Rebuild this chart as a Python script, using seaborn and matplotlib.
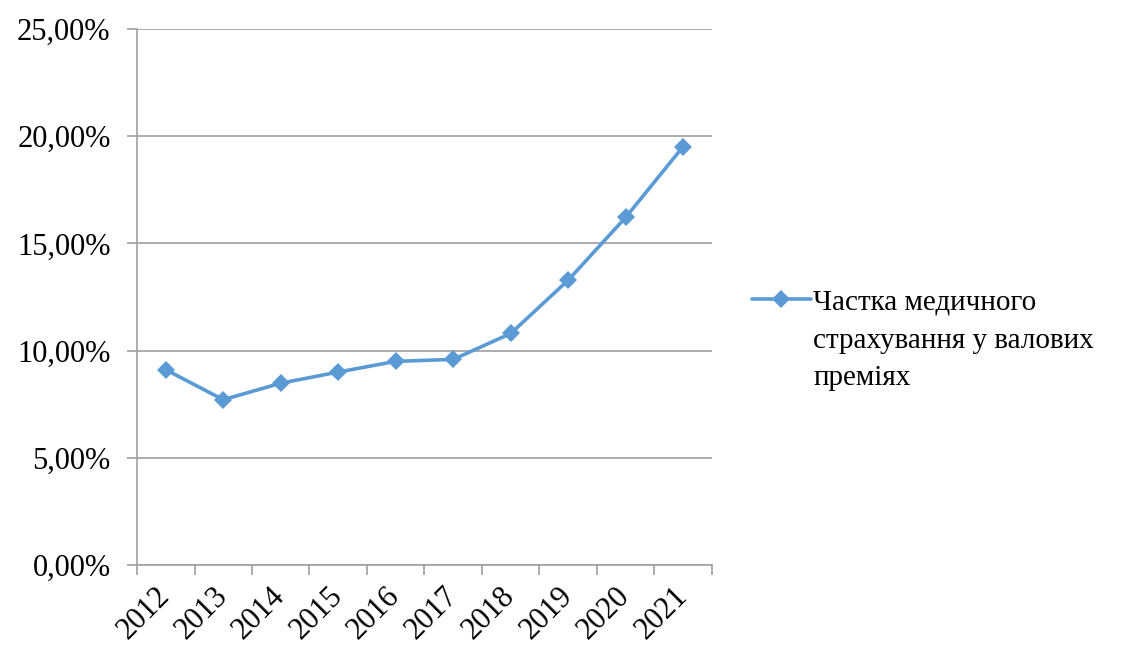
import numpy as np
import pandas as pd
import seaborn as sns
import matplotlib.pyplot as plt
import matplotlib.transforms as mtrans
from matplotlib.ticker import FuncFormatter, FixedLocator

# chart data
years = ["2012", "2013", "2014", "2015", "2016", "2017", "2018", "2019", "2020", "2021"]
share = [9.11, 7.71, 8.48, 9.00, 9.50, 9.59, 10.80, 13.29, 16.22, 19.52]
series_lines = ["Частка медичного", "страхування у валових", "преміях"]

df = pd.DataFrame({"year": years, "share": share})
df["pos"] = np.arange(len(years))

sns.set_style("white")
plt.rcParams['font.family'] = ['Liberation Serif', 'DejaVu Serif']
plt.rcParams['text.color'] = 'black'
plt.rcParams['xtick.color'] = 'black'
plt.rcParams['ytick.color'] = 'black'

grid_col = "#A0A0A0"

fig = plt.figure(figsize=(11.23, 6.45), dpi=100)
ax = fig.add_axes([0.122, 0.124, 0.512, 0.831])

sns.lineplot(data=df, x="pos", y="share", ax=ax, color="#5B9BD5",
             linewidth=2.6, marker="D", markersize=9.5, markeredgewidth=0,
             label=series_lines[0])

# axes
ax.set_xlim(-0.5, len(years) - 0.5)
ax.set_ylim(0, 25)
ax.set_yticks(np.arange(0, 26, 5))
ax.yaxis.set_major_formatter(FuncFormatter(lambda v, p: f"{v:.2f}%".replace(".", ",")))
ax.grid(axis="y", color=grid_col, linewidth=1.2)
ax.set_axisbelow(True)

ax.set_xticks(df["pos"])
ax.set_xticklabels(years, rotation=45, ha="right", va="center", rotation_mode="anchor")
shift = mtrans.ScaledTranslation(-4 / 100, 0, fig.dpi_scale_trans)
for lbl in ax.get_xticklabels():
    lbl.set_transform(lbl.get_transform() + shift)
ax.xaxis.set_minor_locator(FixedLocator(np.arange(-0.5, len(years), 1)))
ax.tick_params(axis="x", which="major", bottom=True, length=0, pad=19, labelsize=22)
ax.tick_params(axis="x", which="minor", bottom=True, length=7, width=1.2,
               color=grid_col, direction="out")
ax.tick_params(axis="y", left=True, length=7, width=1.2, color=grid_col,
               labelcolor="black", direction="out", labelsize=22, pad=12)
ax.set_xlabel("")
ax.set_ylabel("")

for s in ["top", "right"]:
    ax.spines[s].set_visible(False)
for s in ["left", "bottom"]:
    ax.spines[s].set_color(grid_col)
    ax.spines[s].set_linewidth(1.2)

leg = ax.legend(loc="center left", bbox_to_anchor=(1.07, 0.49), frameon=False,
                fontsize=21, handlelength=2.0, handletextpad=0.1,
                borderpad=0, borderaxespad=0)
fig.canvas.draw()
ax.annotate("\n".join(series_lines[1:]), xy=(0, 0), xycoords=leg.get_texts()[0],
            xytext=(0, -9), textcoords="offset points", ha="left", va="top",
            fontsize=21, linespacing=1.55, annotation_clip=False)

fig.savefig("out.png", dpi=100)
